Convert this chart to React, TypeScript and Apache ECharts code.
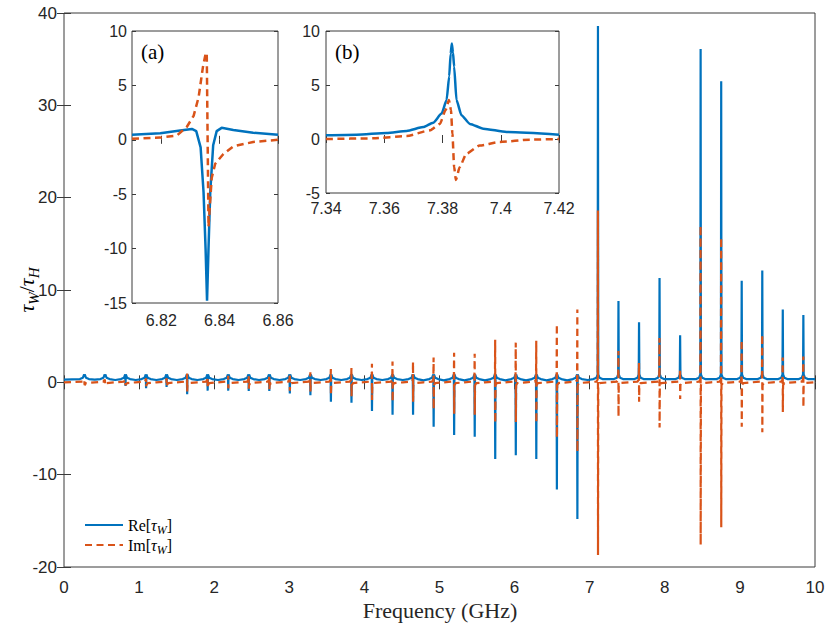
import React, { useEffect, useRef } from "react";
import * as echarts from "echarts";

// ---- main plot: resonance frequencies (GHz) and values read at each resonance ----
const resFreq = [0.272, 0.546, 0.819, 1.093, 1.366, 1.64, 1.913, 2.187, 2.46, 2.734, 3.007, 3.281, 3.554, 3.828, 4.101, 4.375, 4.648, 4.922, 5.195, 5.469, 5.742, 6.016, 6.289, 6.563, 6.836, 7.11, 7.383, 7.657, 7.93, 8.204, 8.477, 8.751, 9.024, 9.298, 9.571, 9.845];
const reExtreme = [0.7, 0.6, -0.4, -0.65, -0.5, -1.3, -0.9, -0.9, -0.95, -0.95, -1.2, -1.4, -2.1, -2.2, -3.1, -3.5, -3.5, -4.8, -5.7, -5.9, -8.3, -7.9, -8.3, -11.6, -14.8, 38.6, 8.8, 6.5, 11.3, 5.1, 36.1, 32.6, 11.0, 12.1, 7.9, 7.3];
const imHigh = [0.15, 0.2, 0.3, 0.45, 0.45, 0.95, 0.6, 0.7, 0.75, 0.8, 0.95, 1.1, 1.45, 1.55, 2.0, 2.25, 2.2, 2.7, 3.2, 3.1, 4.6, 4.3, 4.5, 6.3, 7.9, 18.6, 3.4, 2.1, 4.8, 1.4, 17.0, 15.7, 4.6, 5.2, 2.7, 2.8];
const imLow = [-0.15, -0.2, -0.3, -0.45, -0.45, -1.0, -0.6, -0.65, -0.7, -0.75, -0.9, -1.0, -1.4, -1.5, -1.9, -2.1, -2.1, -2.9, -3.4, -3.5, -4.4, -4.3, -4.4, -6.0, -7.5, -18.7, -3.7, -2.1, -4.9, -1.8, -17.6, -15.7, -4.8, -5.4, -3.2, -2.7];
// Re level half-way between neighbouring resonances
const reFloor = [0.3, 0.25, 0.25, 0.25, 0.25, 0.25, 0.25, 0.25, 0.25, 0.25, 0.25, 0.25, 0.25, 0.25, 0.25, 0.25, 0.22, 0.22, 0.22, 0.22, 0.22, 0.22, 0.22, 0.22, 0.25, 0.35, 0.35, 0.35, 0.35, 0.35, 0.35, 0.35, 0.35, 0.35, 0.35, 0.35];
// tail of each resonance: offsets from centre (GHz) and Re level there
const reTailOffset = [0.06, 0.02, 0.004];
const reTailLevel = [0.35, 0.5, 0.85];
const imTailOffset = [0.02, 0.004, 0.0006];
const imTailLevel = [0.08, 0.3];

// ---- inset (a) ----
const insetARe: [number, number][] = [
  [6.81, 0.46], [6.8197, 0.6], [6.8265, 0.86], [6.8305, 1.0], [6.832, 0.8], [6.8335, -0.7],
  [6.8345, -4.8], [6.8352, -10], [6.8357, -14.8], [6.8362, -10], [6.8368, -4.8], [6.8378, -0.5],
  [6.839, 0.8], [6.8407, 1.1], [6.8447, 0.9], [6.8515, 0.65], [6.86, 0.46],
];
const insetAIm: [number, number][] = [
  [6.81, 0.1], [6.8197, 0.2], [6.8254, 0.4], [6.8288, 1.2], [6.8311, 2.2], [6.8328, 3.9],
  [6.8343, 6.7], [6.8352, 7.9], [6.8356, 8.0], [6.8362, -8.0], [6.8373, -3.5], [6.8385, -2.2],
  [6.8413, -1.3], [6.8447, -0.6], [6.8515, -0.2], [6.86, 0],
];
// ---- inset (b) ----
const insetBRe: [number, number][] = [
  [7.34, 0.34], [7.3505, 0.4], [7.3608, 0.56], [7.3677, 0.74], [7.3734, 1.1], [7.3768, 1.5],
  [7.3797, 2.35], [7.3814, 3.6], [7.3823, 5.8], [7.3828, 7.9], [7.3832, 8.85], [7.3836, 8.0],
  [7.384, 6.7], [7.3848, 3.6], [7.3865, 2.2], [7.3894, 1.4], [7.394, 0.96], [7.402, 0.65], [7.42, 0.4],
];
const insetBIm: [number, number][] = [
  [7.34, 0], [7.3562, 0.06], [7.3677, 0.28], [7.3757, 0.8], [7.3791, 1.4], [7.3811, 2.7],
  [7.3822, 3.6], [7.3829, 2.7], [7.3834, 0.5], [7.384, -2.6], [7.3846, -3.8], [7.3859, -2.6],
  [7.3882, -1.36], [7.3928, -0.6], [7.3997, -0.28], [7.41, -0.06], [7.42, 0],
];

const mainXTicks = [0, 10, 1];
const mainYTicks = [-20, 40, 10];
const insetAXLabels = [6.82, 6.84, 6.86];
const insetBXLabels = [7.34, 7.36, 7.38, 7.4, 7.42];

const BLUE = "#0072BD";
const ORANGE = "#D95319";
const AXIS = "#3a3a3a";
const SANS = "'Liberation Sans', Arial, sans-serif";
const SERIF = "'Liberation Serif', 'Times New Roman', serif";

function buildRe(): [number, number][] {
  const pts: [number, number][] = [[0, reFloor[0]]];
  resFreq.forEach((f, i) => {
    for (let k = 0; k < reTailOffset.length; k++) pts.push([f - reTailOffset[k], reTailLevel[k]]);
    pts.push([f, reExtreme[i]]);
    for (let k = reTailOffset.length - 1; k >= 0; k--) pts.push([f + reTailOffset[k], reTailLevel[k]]);
    const next = i + 1 < resFreq.length ? (f + resFreq[i + 1]) / 2 : 10;
    pts.push([next, reFloor[i]]);
  });
  return pts;
}

function buildIm(): [number, number][] {
  const pts: [number, number][] = [[0, 0]];
  resFreq.forEach((f, i) => {
    pts.push([f - imTailOffset[0], imTailLevel[0]]);
    pts.push([f - imTailOffset[1], imTailLevel[1]]);
    pts.push([f - imTailOffset[2], imHigh[i]]);
    pts.push([f + imTailOffset[2], imLow[i]]);
    pts.push([f + imTailOffset[1], -imTailLevel[1]]);
    pts.push([f + imTailOffset[0], -imTailLevel[0]]);
    const next = i + 1 < resFreq.length ? (f + resFreq[i + 1]) / 2 : 10;
    pts.push([next, 0]);
  });
  return pts;
}

function axisPair(
  gridIndex: number,
  min: number,
  max: number,
  interval: number | null,
  custom: number[] | null,
  fontSize: number,
  margin: number,
  tickLen: number,
  z: number,
  dir: "x" | "y"
) {
  const base: any = {
    type: "value",
    gridIndex,
    min,
    max,
    z,
    axisLine: { show: false },
    splitLine: { show: false },
    axisTick: { show: true, inside: true, length: tickLen, lineStyle: { color: AXIS, width: 1 } },
  };
  if (interval !== null) base.interval = interval;
  const a = {
    ...base,
    position: dir === "x" ? "bottom" : "left",
    axisLabel: {
      show: true,
      color: "#262626",
      fontFamily: SANS,
      fontSize,
      margin,
      showMinLabel: true,
      showMaxLabel: true,
      ...(custom ? { customValues: custom } : {}),
    },
    axisTick: { ...base.axisTick, ...(custom ? { customValues: custom } : {}) },
  };
  const b = {
    ...base,
    position: dir === "x" ? "top" : "right",
    axisLabel: { show: false },
    axisTick: { ...base.axisTick, ...(custom ? { customValues: custom } : {}) },
  };
  return [a, b];
}

export default function App() {
  const ref = useRef<HTMLDivElement>(null);
  useEffect(() => {
    if (!ref.current) return;
    const chart = echarts.init(ref.current, null, { renderer: "svg" });
    const mainX = axisPair(0, mainXTicks[0], mainXTicks[1], mainXTicks[2], null, 17, 12, 7, 1, "x");
    const mainY = axisPair(0, mainYTicks[0], mainYTicks[1], mainYTicks[2], null, 17, 7, 7, 1, "y");
    const aX = axisPair(1, 6.81, 6.86, null, insetAXLabels, 16, 9, 4, 6, "x");
    const aY = axisPair(1, -15, 10, 5, null, 16, 5, 4, 6, "y");
    const bX = axisPair(2, 7.34, 7.42, null, insetBXLabels, 16, 7, 4, 6, "x");
    const bY = axisPair(2, -5, 10, 5, null, 16, 6, 4, 6, "y");

    const reStyle = (w: number) => ({ color: BLUE, width: w });
    const imStyle = (w: number) => ({ color: ORANGE, width: w, type: [7, 4.5] as any, cap: "butt" as any });

    const option: any = {
      animation: false,
      backgroundColor: "#ffffff",
      grid: [
        { left: 64, top: 13, width: 751, height: 554, show: true, borderColor: AXIS, borderWidth: 1, backgroundColor: "#fff", z: 0 },
        { left: 132, top: 31, width: 146, height: 272, show: true, borderColor: AXIS, borderWidth: 1, backgroundColor: "#fff", z: 5 },
        { left: 326, top: 31, width: 233, height: 162, show: true, borderColor: AXIS, borderWidth: 1, backgroundColor: "#fff", z: 5 },
      ],
      xAxis: [...mainX, ...aX, ...bX],
      yAxis: [...mainY, ...aY, ...bY],
      legend: {
        data: ["Re", "Im"],
        left: 79,
        top: 512,
        orient: "vertical",
        itemWidth: 38,
        itemHeight: 14,
        itemGap: 1,
        selectedMode: false,
        itemStyle: { opacity: 0 },
        formatter: (name: string) => `{r|${name}[}{t|τ}{s|W}{r|]}`,
        textStyle: {
          color: "#000",
          rich: {
            r: { fontFamily: SERIF, fontSize: 16, lineHeight: 16, color: "#000" },
            t: { fontFamily: SERIF, fontSize: 16, fontStyle: "italic", lineHeight: 16, color: "#000" },
            s: { fontFamily: SERIF, fontSize: 12, fontStyle: "italic", lineHeight: 16, verticalAlign: "bottom", padding: [0, 0, -3, 0], color: "#000" },
          },
        },
      },
      series: [
        { name: "Re", type: "line", xAxisIndex: 0, yAxisIndex: 0, data: buildRe(), showSymbol: false, symbol: "none", lineStyle: reStyle(2.2), itemStyle: { color: BLUE }, z: 2, clip: true },
        { name: "Im", type: "line", xAxisIndex: 0, yAxisIndex: 0, data: buildIm(), showSymbol: false, symbol: "none", lineStyle: imStyle(2.2), itemStyle: { color: ORANGE }, z: 3, clip: true },
        { name: "Re", type: "line", xAxisIndex: 2, yAxisIndex: 2, data: insetARe, showSymbol: false, symbol: "none", lineStyle: reStyle(2.5), itemStyle: { color: BLUE }, z: 7, clip: true },
        { name: "Im", type: "line", xAxisIndex: 2, yAxisIndex: 2, data: insetAIm, showSymbol: false, symbol: "none", lineStyle: imStyle(2.5), itemStyle: { color: ORANGE }, z: 8, clip: true },
        { name: "Re", type: "line", xAxisIndex: 4, yAxisIndex: 4, data: insetBRe, showSymbol: false, symbol: "none", smooth: 0.2, smoothMonotone: "x", lineStyle: reStyle(2.5), itemStyle: { color: BLUE }, z: 7, clip: true },
        { name: "Im", type: "line", xAxisIndex: 4, yAxisIndex: 4, data: insetBIm, showSymbol: false, symbol: "none", smooth: 0.2, smoothMonotone: "x", lineStyle: imStyle(2.5), itemStyle: { color: ORANGE }, z: 8, clip: true },
      ],
      graphic: [
        { type: "text", z: 20, x: 141, y: 41, style: { text: "(a)", font: `21px ${SERIF}`, fill: "#000" } },
        { type: "text", z: 20, x: 335, y: 41, style: { text: "(b)", font: `21px ${SERIF}`, fill: "#000" } },
        {
          type: "text",
          z: 20,
          x: 26,
          y: 290,
          rotation: Math.PI / 2,
          style: {
            text: "{t|τ}{s|W}{n|/}{t|τ}{s|H}",
            align: "center",
            verticalAlign: "middle",
            rich: {
              t: { fontFamily: SERIF, fontSize: 22, fontStyle: "italic", lineHeight: 22, fill: "#000" },
              n: { fontFamily: SERIF, fontSize: 22, lineHeight: 22, fill: "#000" },
              s: { fontFamily: SERIF, fontSize: 15, fontStyle: "italic", lineHeight: 22, verticalAlign: "bottom", padding: [0, 0, -4, 0], fill: "#000" },
            },
          },
        },
        { type: "text", z: 20, x: 440, y: 610, style: { text: "Frequency (GHz)", font: `22px ${SERIF}`, fill: "#262626", align: "center", verticalAlign: "middle" } },
      ],
    };
    chart.setOption(option);
    return () => chart.dispose();
  }, []);
  return <div ref={ref} style={{ position: "fixed", left: 0, top: 0, width: 831, height: 626 }} />;
}
